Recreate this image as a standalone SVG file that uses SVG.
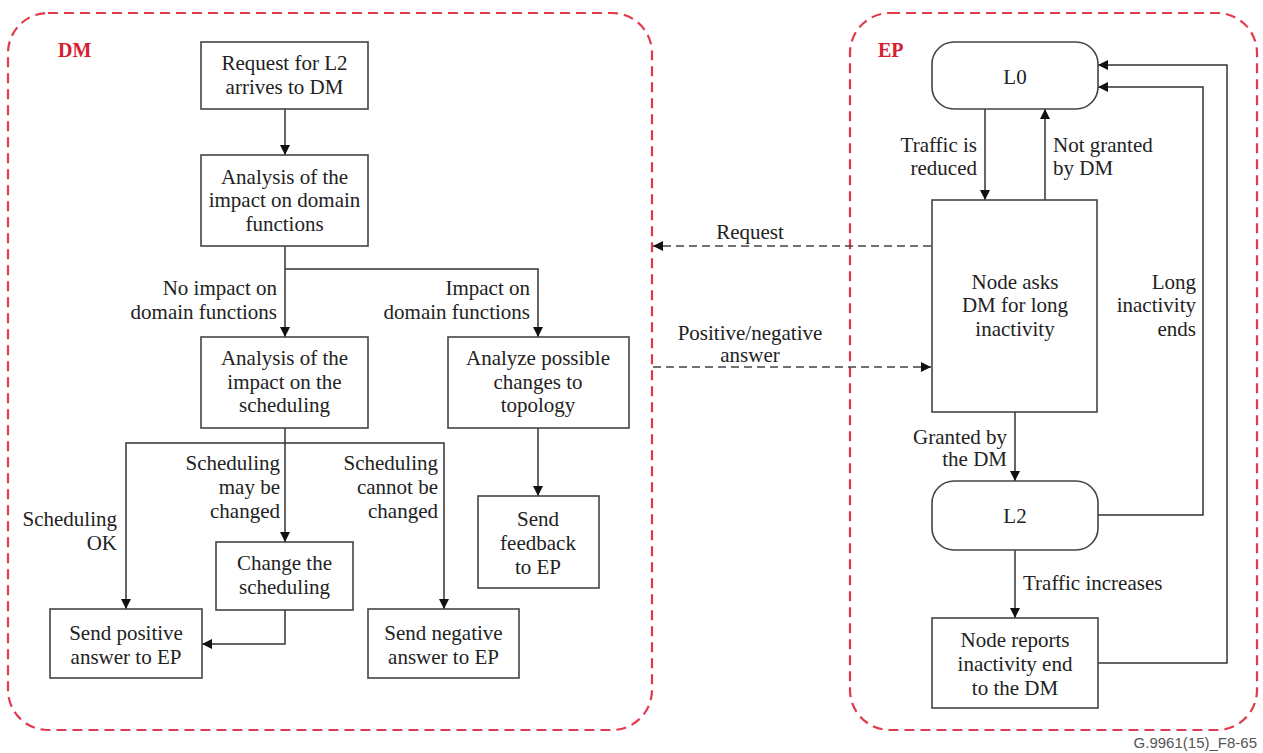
<svg xmlns="http://www.w3.org/2000/svg" width="1263" height="753" viewBox="0 0 1263 753">
<defs>
<style>
.t{font-family:"Liberation Serif","Times New Roman",serif;font-size:21px;fill:#222}
.c{text-anchor:middle}
.r{text-anchor:end}
.box{fill:#fff;stroke:#444;stroke-width:1.6}
.ln{fill:none;stroke:#333;stroke-width:1.5}
.dl{fill:none;stroke:#444;stroke-width:1.5;stroke-dasharray:8 5}
.cont{fill:none;stroke:#e03a4c;stroke-width:2.2;stroke-dasharray:10 6}
.lbl{font-family:"Liberation Serif","Times New Roman",serif;font-size:20px;font-weight:bold;fill:#d42030}
</style>
<marker id="ah" viewBox="0 0 10 10" refX="10" refY="5" markerWidth="10" markerHeight="10" markerUnits="userSpaceOnUse" orient="auto">
<path d="M0,0 L10,5 L0,10 z" fill="#111"/>
</marker>
</defs>
<rect width="1263" height="753" fill="#fff"/>

<g id="containers">
<rect class="cont" x="8" y="13" width="644" height="717" rx="40" ry="40"/>
<rect class="cont" x="850" y="13" width="407" height="717" rx="40" ry="40"/>
<text class="lbl" x="58" y="57">DM</text>
<text class="lbl" x="878" y="57">EP</text>
</g>

<g id="connectors">
<path class="ln" d="M285,109 V155" marker-end="url(#ah)"/>
<path class="ln" d="M285,246 V337" marker-end="url(#ah)"/>
<path class="ln" d="M285,269 H538 V337" marker-end="url(#ah)"/>
<path class="ln" d="M538,428 V496" marker-end="url(#ah)"/>
<path class="ln" d="M285,428 V542" marker-end="url(#ah)"/>
<path class="ln" d="M285,443 H126 V609" marker-end="url(#ah)"/>
<path class="ln" d="M285,443 H444 V609" marker-end="url(#ah)"/>
<path class="ln" d="M285,610 V644 H202" marker-end="url(#ah)"/>
<path class="dl" d="M931,246 H653" marker-end="url(#ah)"/>
<path class="dl" d="M653,367 H931" marker-end="url(#ah)"/>
<path class="ln" d="M985,109 V200" marker-end="url(#ah)"/>
<path class="ln" d="M1045,200 V109" marker-end="url(#ah)"/>
<path class="ln" d="M1015,412 V481" marker-end="url(#ah)"/>
<path class="ln" d="M1015,550 V618" marker-end="url(#ah)"/>
<path class="ln" d="M1098,515 H1203 V87 H1098" marker-end="url(#ah)"/>
<path class="ln" d="M1098,663 H1227 V65 H1098" marker-end="url(#ah)"/>
<g class="t">
<text class="r" x="277" y="295">No impact on</text>
<text class="r" x="277" y="319">domain functions</text>
<text class="r" x="530" y="295">Impact on</text>
<text class="r" x="530" y="319">domain functions</text>
<text class="r" x="117" y="526">Scheduling</text>
<text class="r" x="117" y="550">OK</text>
<text class="r" x="280" y="470">Scheduling</text>
<text class="r" x="280" y="494">may be</text>
<text class="r" x="280" y="518">changed</text>
<text class="r" x="438" y="470">Scheduling</text>
<text class="r" x="438" y="494">cannot be</text>
<text class="r" x="438" y="518">changed</text>
<text class="c" x="750" y="239">Request</text>
<text class="c" x="750" y="340">Positive/negative</text>
<text class="c" x="750" y="362">answer</text>
<text class="r" x="977" y="152">Traffic is</text>
<text class="r" x="977" y="175">reduced</text>
<text x="1053" y="152">Not granted</text>
<text x="1053" y="175">by DM</text>
<text class="r" x="1196" y="289">Long</text>
<text class="r" x="1196" y="312">inactivity</text>
<text class="r" x="1196" y="336">ends</text>
<text class="r" x="1007" y="444">Granted by</text>
<text class="r" x="1007" y="466">the DM</text>
<text x="1023" y="590">Traffic increases</text>
</g>
</g>

<g id="n_request">
<rect class="box" x="201" y="42" width="167" height="67"/>
<text class="t c" x="284.5" y="70">Request for L2</text>
<text class="t c" x="284.5" y="94">arrives to DM</text>
</g>
<g id="n_analysis_domain">
<rect class="box" x="201" y="155" width="167" height="91"/>
<text class="t c" x="284.5" y="184">Analysis of the</text>
<text class="t c" x="284.5" y="207">impact on domain</text>
<text class="t c" x="284.5" y="231">functions</text>
</g>
<g id="n_analysis_sched">
<rect class="box" x="201" y="337" width="167" height="91"/>
<text class="t c" x="284.5" y="365">Analysis of the</text>
<text class="t c" x="284.5" y="389">impact on the</text>
<text class="t c" x="284.5" y="412">scheduling</text>
</g>
<g id="n_analyze_topology">
<rect class="box" x="448" y="337" width="181" height="91"/>
<text class="t c" x="538" y="365">Analyze possible</text>
<text class="t c" x="538" y="389">changes to</text>
<text class="t c" x="538" y="412">topology</text>
</g>
<g id="n_change_sched">
<rect class="box" x="216" y="542" width="137" height="68"/>
<text class="t c" x="284.5" y="570">Change the</text>
<text class="t c" x="284.5" y="594">scheduling</text>
</g>
<g id="n_send_positive">
<rect class="box" x="50" y="609" width="152" height="69"/>
<text class="t c" x="126" y="640">Send positive</text>
<text class="t c" x="126" y="664">answer to EP</text>
</g>
<g id="n_send_negative">
<rect class="box" x="368" y="609" width="151" height="69"/>
<text class="t c" x="443.5" y="640">Send negative</text>
<text class="t c" x="443.5" y="664">answer to EP</text>
</g>
<g id="n_send_feedback">
<rect class="box" x="478" y="496" width="121" height="92"/>
<text class="t c" x="538" y="526">Send</text>
<text class="t c" x="538" y="550">feedback</text>
<text class="t c" x="538" y="574">to EP</text>
</g>

<g id="n_L0">
<rect class="box" x="932" y="42" width="166" height="67" rx="22" ry="22"/>
<text class="t c" x="1015" y="84">L0</text>
</g>
<g id="n_node_asks">
<rect class="box" x="932" y="200" width="165" height="212"/>
<text class="t c" x="1015" y="289">Node asks</text>
<text class="t c" x="1015" y="312">DM for long</text>
<text class="t c" x="1015" y="336">inactivity</text>
</g>
<g id="n_L2">
<rect class="box" x="932" y="481" width="166" height="69" rx="22" ry="22"/>
<text class="t c" x="1015" y="523">L2</text>
</g>
<g id="n_node_reports">
<rect class="box" x="932" y="618" width="166" height="90"/>
<text class="t c" x="1015" y="647">Node reports</text>
<text class="t c" x="1015" y="671">inactivity end</text>
<text class="t c" x="1015" y="695">to the DM</text>
</g>

<text x="1257" y="748" text-anchor="end" style="font-family:'Liberation Sans',Arial,sans-serif;font-size:15px;fill:#555">G.9961(15)_F8-65</text>
</svg>
